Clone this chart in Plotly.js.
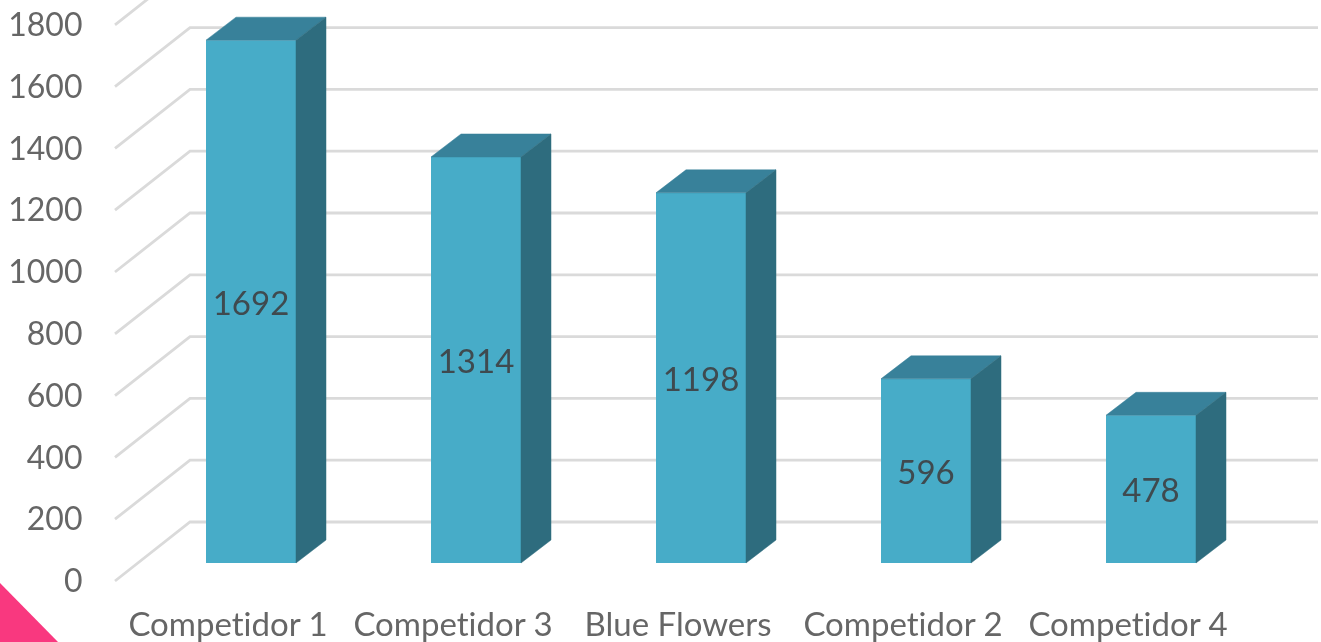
<!DOCTYPE html>
<html>
<head>
<meta charset="utf-8">
<script src="https://cdn.plot.ly/plotly-3.0.1.min.js"></script>
<style>
html,body{margin:0;padding:0;background:#fff;overflow:hidden}
#chart{width:1321px;height:642px;filter:blur(0.6px)}
#chart text{font-variant-ligatures:none !important;font-feature-settings:"liga" 0,"clig" 0 !important}
</style>
</head>
<body>
<div id="chart"></div>
<script>
// Data
const categories = ["Competidor 1", "Competidor 3", "Blue Flowers", "Competidor 2", "Competidor 4"];
const values = [1692, 1314, 1198, 596, 478];
const tickValues = [0, 200, 400, 600, 800, 1000, 1200, 1400, 1600, 1800];

// Colours
const FRONT = "#47ACC8", TOP = "#38819A", SIDE = "#2E6C7E", GRID = "#DADADA";
const AXIS_TEXT = "#666666", VALUE_TEXT = "#3F4A4F", PINK = "#F9387F";

// Scale of the chart on the page
const W = 1321, H = 642;
const pxPerCat = 225, pxPerUnit = 0.309;
const x0px = 251, y0px = 563;           // plane of the columns' front face
const barWidth = 0.4;
const depthX = 30 / pxPerCat, depthY = 23 / pxPerUnit;   // column depth
const labelShiftX = 23, frontY0px = 581, backY0px = 522;
const frontX = (115 - x0px) / pxPerCat, backX = (190 - x0px) / pxPerCat, endX = (1318 - x0px) / pxPerCat;
const frontShift = (y0px - frontY0px) / pxPerUnit, backShift = (y0px - backY0px) / pxPerUnit;

const xRange = [-x0px / pxPerCat, (W - x0px) / pxPerCat];
const yRange = [(y0px - H) / pxPerUnit, y0px / pxPerUnit];

// Wall grid lines
const gridX = [], gridY = [];
tickValues.forEach(v => {
  gridX.push(frontX, backX, endX, null);
  gridY.push(v + frontShift, v + backShift, v + backShift, null);
});

// Column faces
const topX = [], topY = [], sideX = [], sideY = [];
values.forEach((v, i) => {
  const l = i - barWidth / 2, r = i + barWidth / 2;
  topX.push(l, r, r + depthX, l + depthX, l, null);
  topY.push(v, v, v + depthY, v + depthY, v, null);
  sideX.push(r, r + depthX, r + depthX, r, r, null);
  sideY.push(v, v + depthY, depthY, 0, v, null);
});

const traces = [
  {type: "scatter", mode: "lines", x: gridX, y: gridY, xaxis: "x", yaxis: "y",
   line: {color: GRID, width: 2.8}, hoverinfo: "skip", cliponaxis: true},
  {type: "bar", x: categories.map((c, i) => i), y: values, width: barWidth, xaxis: "x2", yaxis: "y2",
   marker: {color: FRONT, line: {width: 0}},
   text: values.map(String), textposition: "inside", insidetextanchor: "middle", textangle: 0,
   insidetextfont: {family: "Lato, sans-serif", size: 33, color: VALUE_TEXT}, hoverinfo: "skip"},
  {type: "scatter", mode: "lines", x: topX, y: topY, xaxis: "x2", yaxis: "y2", fill: "toself",
   fillcolor: TOP, line: {color: TOP, width: 0.5}, hoverinfo: "skip"},
  {type: "scatter", mode: "lines", x: sideX, y: sideY, xaxis: "x2", yaxis: "y2", fill: "toself",
   fillcolor: SIDE, line: {color: SIDE, width: 0.5}, hoverinfo: "skip"},
  {type: "scatter", mode: "none", x: [], y: [], xaxis: "x3", yaxis: "y3", hoverinfo: "skip"}
];

const hidden = {visible: false, fixedrange: true};
const layout = {
  width: W, height: H,
  margin: {l: 0, r: 0, t: 0, b: 0},
  paper_bgcolor: "#fff", plot_bgcolor: "#fff",
  showlegend: false,
  barmode: "overlay",
  xaxis: Object.assign({range: xRange}, hidden),
  yaxis: Object.assign({range: yRange}, hidden),
  xaxis2: Object.assign({range: xRange, overlaying: "x"}, hidden),
  yaxis2: Object.assign({range: yRange, overlaying: "y"}, hidden),
  xaxis3: {
    range: [xRange[0] + labelShiftX / pxPerCat, xRange[1] + labelShiftX / pxPerCat],
    overlaying: "x", anchor: "free", position: (H - 602) / H, side: "bottom",
    tickmode: "array", tickvals: categories.map((c, i) => i), ticktext: categories,
    showgrid: false, zeroline: false, showline: false, ticks: "", tickangle: 0, automargin: false,
    tickfont: {family: "Lato, sans-serif", size: 33, color: AXIS_TEXT}
  },
  yaxis3: {
    range: [yRange[0] + (frontY0px - y0px) / pxPerUnit, yRange[1] + (frontY0px - y0px) / pxPerUnit],
    overlaying: "y", anchor: "free", position: 82.5 / W, side: "left",
    tickmode: "array", tickvals: tickValues, ticktext: tickValues.map(String),
    showgrid: false, zeroline: false, showline: false, ticks: "", automargin: false,
    tickfont: {family: "Lato, sans-serif", size: 32, color: AXIS_TEXT}
  },
  shapes: [{
    type: "path", xref: "paper", yref: "paper", layer: "above",
    path: `M 0 ${(H - 583) / H} L ${58 / W} 0 L 0 0 Z`,
    fillcolor: PINK, line: {width: 0}
  }]
};

Plotly.newPlot("chart", traces, layout, {displayModeBar: false, staticPlot: true});
</script>
</body>
</html>
